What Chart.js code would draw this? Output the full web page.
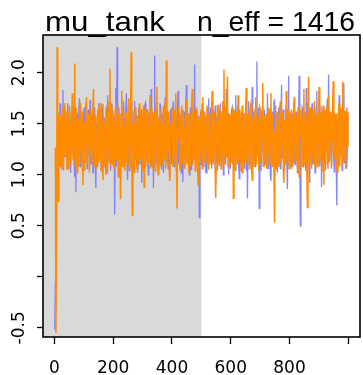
<!DOCTYPE html>
<html>
<head>
<meta charset="UTF-8">
<title>mu_tank trace</title>
<script src="https://cdn.jsdelivr.net/npm/chart.js"></script>
<style>
  body { margin: 0; background: #fff; }
  #wrap { width: 363px; height: 375px; }
</style>
</head>
<body>
<div id="wrap"><canvas id="trace"></canvas></div>
<script>
// every 2nd draw of the two chains
const thinStep = 2;
const paramName = 'mu_tank';
const nEff = 1416;
const warmupEnd = 500;
const xTicks = [0, 200, 400, 600, 800, 1000];
const xTickLabels = ['0', '200', '400', '600', '800', ''];
const yTicks = [-0.5, 0, 0.5, 1, 1.5, 2];
const yTickLabels = ['-0.5', '', '0.5', '1.0', '1.5', '2.0'];

const chain1 = [
  -0.52, -0.05, 0.45, 0.95, 1.2, 1.62, 1.55, 1.08, 1.28, 1.7, 1.62, 1.15, 1.05, 1.58, 1.83, 1.12, 1.4, 1.66, 1.18, 1.6,
  1.45, 1.06, 1.7, 1.2, 1.12, 1.64, 1.35, 1.02, 1.58, 1.25, 1.22, 1.68, 1.48, 1.1, 0.98, 1.55, 0.83, 1.46, 1.6, 1.14,
  1.3, 1.62, 1.75, 1.08, 1.15, 1.6, 1.42, 1.04, 1.05, 1.58, 1.66, 1.12, 1.25, 1.7, 1.52, 1.06, 1.1, 1.64, 1.38, 1.18,
  1.73, 1.1, 1.2, 1.58, 1.47, 1.02, 1.02, 1.66, 1.6, 1.14, 0.87, 1.52, 1.33, 1.08, 1.55, 1.7, 1.18, 1.6, 1.44, 1.05,
  1.28, 1.64, 1.69, 1.1, 1.08, 1.56, 1.5, 1.0, 1.36, 1.68, 1.78, 1.16, 1.15, 1.62, 1.4, 1.04, 1.26, 1.7, 1.62, 1.12,
  1.1, 1.58, 0.61, 1.46, 1.85, 1.08, 2.25, 1.2, 1.3, 1.66, 1.47, 1.02, 1.0, 1.6, 1.68, 1.14, 1.22, 1.72, 1.55, 1.06,
  1.35, 1.64, 1.8, 1.12, 0.95, 1.56, 1.43, 1.04, 1.6, 1.18, 1.2, 1.7, 1.5, 1.08, 1.08, 1.62, 1.72, 1.15, 1.32, 1.58,
  1.46, 1.02, 1.14, 1.66, 1.62, 1.1, 1.38, 1.6, 0.92, 1.48, 1.56, 1.06, 1.27, 1.68, 1.7, 1.12, 1.18, 1.64, 1.45, 1.0,
  1.6, 1.16, 1.25, 1.62, 1.84, 1.08, 1.3, 1.56, 0.87, 1.44, 2.17, 1.1, 1.4, 1.66, 1.12, 1.58, 1.55, 1.04, 1.33, 1.7,
  1.67, 1.12, 1.05, 1.6, 1.48, 1.02, 1.24, 1.68, 1.76, 1.14, 1.36, 1.62, 1.15, 1.06, 1.58, 1.2, 0.97, 1.64, 1.44, 1.1,
  1.3, 1.66, 1.72, 1.08, 1.2, 1.58, 1.5, 1.04, 1.38, 1.7, 1.82, 1.12, 1.1, 1.6, 1.46, 1.02, 1.28, 1.64, 0.93, 1.52,
  1.62, 1.06, 1.35, 1.68, 1.88, 1.14, 1.18, 1.6, 1.52, 1.0, 1.3, 1.66, 1.05, 1.5, 1.7, 1.1, 1.42, 1.62, 2.08, 1.16,
  1.25, 1.64, 1.6, 1.04, 1.12, 1.58, 0.58, 1.4, 1.48, 1.1, 1.36, 1.7, 1.65, 1.08, 1.2, 1.62, 1.54, 1.02, 1.02, 1.56,
  1.4, 1.12, 1.75, 1.2, 1.26, 1.66, 1.5, 1.06, 1.14, 1.6, 1.62, 1.1, 1.33, 1.68, 0.9, 1.5, 1.57, 1.04, 1.28, 1.64,
  1.46, 1.08, 1.7, 1.16, 1.08, 1.62, 1.38, 1.0, 1.6, 1.66, 1.22, 1.1, 1.84, 1.2, 1.35, 1.6, 1.0, 1.48, 1.52, 1.06,
  1.3, 1.64, 1.66, 1.1, 1.18, 1.58, 1.44, 1.04, 1.78, 1.14, 1.25, 1.68, 1.5, 1.08, 0.96, 1.56, 1.4, 1.12, 1.62, 1.02,
  1.2, 1.6, 1.55, 1.06, 1.34, 1.7, 1.04, 1.5, 0.77, 1.44, 1.72, 1.1, 1.28, 1.64, 1.48, 1.02, 1.86, 1.16, 1.16, 1.62,
  1.42, 1.08, 1.6, 1.18, 2.11, 1.2, 1.3, 1.66, 0.67, 1.4, 1.54, 1.04, 1.22, 1.6, 1.68, 1.1, 1.38, 1.64, 1.1, 1.56,
  1.5, 1.12, 1.8, 1.06, 1.26, 1.62, 1.44, 1.0, 0.94, 1.58, 1.62, 1.14, 1.34, 1.7, 1.74, 1.08, 1.15, 1.6, 1.47, 1.02,
  1.3, 1.66, 1.58, 1.1, 1.06, 1.56, 1.88, 1.16, 1.36, 1.64, 1.52, 1.04, 1.2, 1.62, 1.66, 1.12, 0.86, 1.5, 1.97, 1.08,
  1.4, 1.6, 1.25, 1.06, 1.6, 1.14, 1.12, 1.68, 1.76, 1.1, 1.33, 1.62, 1.48, 1.02, 1.02, 1.58, 1.97, 1.16, 0.5, 1.44,
  1.45, 1.66, 1.64, 1.08, 1.2, 1.6, 1.38, 1.04, 1.85, 1.12, 1.28, 1.7, 1.55, 1.06, 0.92, 1.52, 1.42, 1.64, 1.7, 1.1,
  1.18, 1.62, 1.5, 1.02, 1.32, 1.66, 1.82, 1.14, 1.1, 1.58, 1.6, 1.08, 1.36, 1.68, 0.88, 1.46, 1.66, 1.12, 1.26, 1.6,
  1.52, 1.04, 1.4, 1.64, 1.75, 1.1, 1.98, 1.2, 1.14, 1.6, 1.46, 1.06, 1.3, 1.7, 1.62, 1.12, 1.02, 1.56, 1.55, 1.08,
  0.7, 1.5, 1.44, 1.1, 1.78, 1.16, 1.22, 1.64, 1.58, 1.04, 1.35, 1.66, 1.9, 1.12, 1.12, 1.6, 1.5, 1.06, 1.3, 1.62
];

const chain2 = [
  1.26, 1.26, -0.55, 0.28, 2.25, 0.85, 0.74, 1.6, 1.3, 1.08, 1.58, 1.14, 1.12, 1.66, 1.45, 1.04, 1.7, 1.2, 1.2, 1.62,
  1.38, 1.06, 1.62, 1.12, 1.05, 1.68, 1.5, 1.1, 1.28, 1.64, 1.8, 1.16, 1.15, 1.6, 2.09, 1.08, 1.34, 1.66, 1.02, 1.5,
  1.55, 1.08, 1.24, 1.7, 1.68, 1.12, 1.4, 1.62, 0.9, 1.46, 1.52, 1.04, 1.3, 1.66, 1.76, 1.1, 1.1, 1.6, 1.46, 1.02,
  1.22, 1.64, 1.6, 1.1, 1.36, 1.68, 1.84, 1.14, 1.08, 1.58, 1.5, 1.06, 1.26, 1.62, 1.64, 1.12, 1.15, 1.7, 1.42, 1.04,
  1.7, 1.16, 0.95, 1.56, 1.48, 1.08, 1.3, 1.66, 1.58, 1.02, 1.2, 1.62, 1.72, 1.12, 2.04, 1.1, 1.35, 1.68, 1.1, 1.6,
  1.52, 1.06, 1.28, 1.64, 1.66, 1.14, 1.4, 1.7, 0.98, 1.54, 1.6, 1.1, 0.76, 1.48, 1.82, 1.08, 1.25, 1.64, 1.47, 1.04,
  1.14, 1.62, 1.56, 1.1, 1.34, 1.68, 1.75, 1.06, 1.2, 1.6, 2.2, 1.12, 0.6, 1.5, 1.5, 1.02, 1.3, 1.66, 1.62, 1.16,
  1.06, 1.58, 1.44, 1.1, 1.7, 1.14, 1.24, 1.64, 1.55, 1.04, 1.36, 1.68, 0.88, 1.46, 1.66, 1.08, 1.28, 1.62, 1.48, 1.12,
  1.18, 1.6, 1.78, 1.06, 1.4, 1.66, 1.58, 1.1, 1.12, 1.62, 1.5, 1.04, 1.32, 1.7, 1.86, 1.14, 1.0, 1.56, 1.46, 1.08,
  1.26, 1.64, 1.64, 1.1, 1.38, 1.68, 1.15, 1.58, 1.72, 1.06, 2.12, 1.12, 1.3, 1.62, 1.54, 1.02, 0.94, 1.5, 1.42, 1.66,
  1.6, 1.08, 1.22, 1.64, 1.48, 1.1, 1.8, 1.16, 0.67, 1.44, 1.36, 1.66, 1.56, 1.04, 1.1, 1.6, 1.68, 1.12, 1.3, 1.62,
  1.45, 1.06, 1.2, 1.66, 1.74, 1.1, 1.38, 1.6, 1.02, 1.52, 1.6, 1.08, 1.28, 1.68, 1.84, 1.14, 1.16, 1.62, 1.5, 1.04,
  1.34, 1.66, 1.66, 1.08, 0.9, 1.56, 1.44, 1.12, 1.58, 1.64, 1.24, 1.06, 1.76, 1.18, 1.12, 1.6, 1.5, 1.1, 1.36, 1.68,
  1.62, 1.08, 1.05, 1.6, 1.45, 1.1, 1.3, 1.66, 1.82, 1.12, 1.2, 1.62, 1.55, 1.04, 0.77, 1.5, 1.4, 1.68, 1.68, 1.1,
  1.26, 1.64, 1.5, 1.06, 1.14, 1.62, 1.72, 1.1, 2.03, 1.16, 1.35, 1.66, 1.18, 1.58, 1.96, 1.08, 1.42, 1.6, 1.08, 1.54,
  1.58, 1.12, 1.3, 1.66, 0.77, 1.5, 1.64, 1.06, 1.24, 1.62, 1.48, 1.1, 1.78, 1.14, 1.15, 1.64, 1.52, 1.04, 1.36, 1.68,
  1.02, 1.58, 1.6, 1.1, 1.28, 1.66, 1.85, 1.12, 1.2, 1.6, 1.46, 1.06, 1.32, 1.68, 1.7, 1.1, 0.95, 1.52, 1.54, 1.08,
  1.38, 1.64, 1.76, 1.1, 1.1, 1.6, 1.5, 1.04, 1.26, 1.66, 1.64, 1.12, 1.4, 1.62, 1.9, 1.08, 1.16, 1.58, 1.45, 1.1,
  1.6, 1.06, 1.22, 1.66, 1.52, 1.1, 1.34, 1.64, 1.8, 1.12, 1.08, 1.6, 1.44, 1.1, 0.53, 1.4, 1.68, 1.06, 1.3, 1.62,
  1.5, 1.08, 1.18, 1.66, 1.72, 1.12, 1.36, 1.6, 1.58, 1.04, 0.92, 1.54, 1.46, 1.1, 1.82, 1.14, 1.25, 1.64, 1.4, 1.06,
  1.62, 1.1, 1.12, 1.64, 1.54, 1.08, 1.3, 1.68, 1.76, 1.14, 1.2, 1.6, 1.48, 1.06, 1.66, 1.12, 0.98, 1.56, 1.38, 1.64,
  1.56, 1.08, 1.26, 1.66, 1.84, 1.1, 1.14, 1.62, 1.5, 1.04, 0.68, 1.48, 1.96, 1.12, 1.34, 1.66, 1.6, 1.06, 1.2, 1.64,
  1.45, 1.1, 1.72, 1.14, 1.05, 1.6, 1.52, 1.08, 1.3, 1.66, 1.86, 1.12, 1.18, 1.62, 1.58, 1.04, 1.4, 1.68, 0.9, 1.5,
  1.64, 1.1, 1.28, 1.66, 1.48, 1.06, 1.78, 1.12, 1.12, 1.62, 1.55, 1.08, 1.36, 1.68, 1.92, 1.14, 1.22, 1.6, 1.46, 1.04,
  1.6, 1.12, 1.02, 1.64, 1.7, 1.08, 1.32, 1.66, 1.5, 1.1, 1.91, 1.14, 1.15, 1.62, 1.62, 1.06, 1.4, 1.66, 1.28, 1.6
];

function toPoints(vals) {
  return vals.map((v, i) => ({ x: i * thinStep + 1, y: v }));
}

const tickFont = { family: 'DejaVu Sans', size: 17 };

// grey warmup band behind the lines
const warmupShade = {
  id: 'warmupShade',
  beforeDatasetsDraw(chart) {
    const { ctx, chartArea, scales } = chart;
    const xEnd = scales.x.getPixelForValue(warmupEnd);
    ctx.save();
    ctx.fillStyle = '#d9d9d9';
    ctx.fillRect(chartArea.left, chartArea.top, xEnd - chartArea.left, chartArea.bottom - chartArea.top);
    ctx.restore();
  }
};

// draw text squeezed/stretched to a given width (R title is wider than Arial)
function fitText(ctx, str, x, y, w) {
  const natural = ctx.measureText(str).width;
  ctx.save();
  ctx.translate(x, y);
  ctx.scale(w / natural, 1);
  ctx.fillText(str, 0, 0);
  ctx.restore();
}

// box, rotated y labels, title
const frame = {
  id: 'frame',
  afterDraw(chart) {
    const { ctx, chartArea, scales } = chart;
    ctx.save();
    ctx.strokeStyle = '#000';
    ctx.lineWidth = 1.6;
    ctx.strokeRect(chartArea.left, chartArea.top, chartArea.right - chartArea.left, chartArea.bottom - chartArea.top);

    ctx.fillStyle = '#000';
    ctx.font = '17px "DejaVu Sans"';
    ctx.textAlign = 'center';
    ctx.textBaseline = 'middle';
    yTicks.forEach((v, i) => {
      const y = scales.y.getPixelForValue(v);
      ctx.save();
      ctx.translate(20, y);
      ctx.rotate(-Math.PI / 2);
      ctx.fillText(yTickLabels[i], 0, 0);
      ctx.restore();
    });

    ctx.font = '28px "Liberation Sans"';
    ctx.textAlign = 'left';
    ctx.textBaseline = 'alphabetic';
    fitText(ctx, paramName, 45, 31, 120);
    fitText(ctx, 'n_eff = ' + nEff, 197, 31, 158);
    ctx.restore();
  }
};

new Chart(document.getElementById('trace'), {
  type: 'line',
  data: {
    datasets: [
      {
        label: 'chain 1',
        data: toPoints(chain1),
        borderColor: 'rgba(120, 120, 255, 0.9)',
        borderWidth: 1.3,
        pointRadius: 0,
        tension: 0,
        order: 2
      },
      {
        label: 'chain 2',
        data: toPoints(chain2),
        borderColor: '#ff8c00',
        borderWidth: 1.5,
        pointRadius: 0,
        tension: 0,
        order: 1
      }
    ]
  },
  options: {
    responsive: true,
    maintainAspectRatio: false,
    animation: false,
    layout: { padding: { top: 35, right: 3, left: 0, bottom: 0 } },
    plugins: {
      legend: { display: false },
      tooltip: { enabled: false }
    },
    scales: {
      x: {
        type: 'linear',
        min: -39,
        max: 1040,
        border: { display: false },
        grid: { drawOnChartArea: false, tickLength: 7, tickColor: '#000', tickWidth: 1.3 },
        ticks: {
          color: '#000',
          font: tickFont,
          padding: 14,
          maxRotation: 0,
          autoSkip: false,
          callback: (v) => xTickLabels[xTicks.indexOf(v)]
        },
        afterBuildTicks: (s) => { s.ticks = xTicks.map(v => ({ value: v })); },
        afterFit: (s) => { s.height = 38; }
      },
      y: {
        type: 'linear',
        min: -0.59,
        max: 2.37,
        border: { display: false },
        grid: { drawOnChartArea: false, tickLength: 6, tickColor: '#000', tickWidth: 1.3 },
        ticks: { display: true, callback: () => '' },
        afterBuildTicks: (s) => { s.ticks = yTicks.map(v => ({ value: v })); },
        afterFit: (s) => { s.width = 43; }
      }
    }
  },
  plugins: [warmupShade, frame]
});
</script>
</body>
</html>
